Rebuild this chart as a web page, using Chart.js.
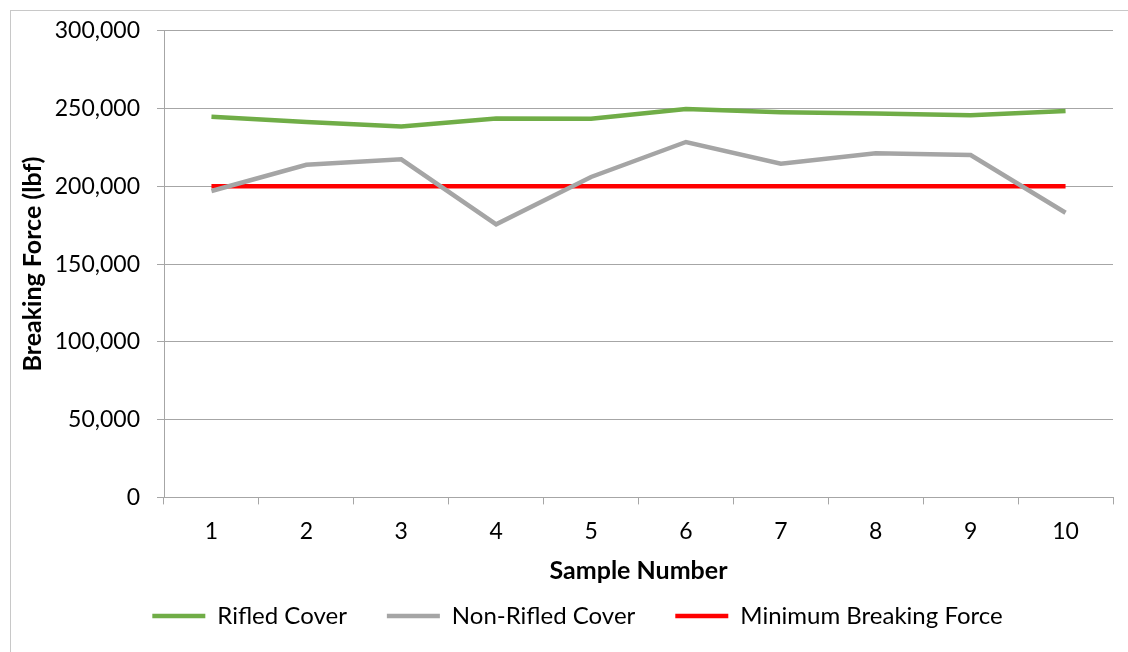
<!DOCTYPE html>
<html><head><meta charset="utf-8">
<script src="https://cdn.jsdelivr.net/npm/chart.js@4/dist/chart.umd.min.js"></script>
<style>
html,body{margin:0;padding:0;background:#fff;}
#wrap{position:relative;width:1128px;height:652px;overflow:hidden;}
#frame{position:absolute;left:10px;top:10px;width:1200px;height:700px;border:1px solid #c8c8c8;box-sizing:border-box;}
canvas{position:absolute;left:0;top:0;}
</style></head>
<body><div id="wrap"><div id="frame"></div><canvas id="c" width="1128" height="652"></canvas></div>
<script>
const categories = ['1','2','3','4','5','6','7','8','9','10'];
const rifledCover = [244700, 241400, 238400, 243600, 243400, 249700, 247700, 246800, 245700, 248500];
const nonRifledCover = [197000, 213900, 217400, 175600, 206000, 228500, 214600, 221200, 220100, 183000];
const minimumBreakingForce = [200000, 200000, 200000, 200000, 200000, 200000, 200000, 200000, 200000, 200000];
const yTicks = [0, 50000, 100000, 150000, 200000, 250000, 300000];

const FONT = 'Lato, "Liberation Sans", sans-serif';
const GRID = '#a6a6a6';
const LEGEND_GAP = 40;
const LEGEND_SHRINK = 28;
const LEGEND_SHIFT_X = 12;

const legendFix = {
  id: 'legendFix',
  beforeLayout(chart) {
    const lg = chart.legend;
    if (lg && !lg._patched) {
      const orig = lg.fit.bind(lg);
      lg.fit = function () { orig(); this.height -= LEGEND_SHRINK; };
      lg._patched = true;
    }
  },
  afterLayout(chart) {
    const lg = chart.legend;
    if (lg) { lg.top -= LEGEND_SHRINK; lg.left += LEGEND_SHIFT_X; lg.right += LEGEND_SHIFT_X; }
  }
};

new Chart(document.getElementById('c'), {
  type: 'line',
  data: {
    labels: categories,
    datasets: [
      {label: 'Rifled Cover', data: rifledCover, borderColor: '#70ad47', backgroundColor: '#70ad47', borderWidth: 4.5, pointRadius: 0, tension: 0},
      {label: 'Non-Rifled Cover', data: nonRifledCover, borderColor: '#a5a5a5', backgroundColor: '#a5a5a5', borderWidth: 4.5, pointRadius: 0, tension: 0},
      {label: 'Minimum Breaking Force', data: minimumBreakingForce, borderColor: '#ff0000', backgroundColor: '#ff0000', borderWidth: 4.5, pointRadius: 0, tension: 0}
    ]
  },
  plugins: [legendFix],
  options: {
    responsive: false,
    animation: false,
    devicePixelRatio: 1,
    layout: {padding: {left: 18, right: 15, top: 30, bottom: 14}},
    plugins: {
      legend: {
        position: 'bottom',
        labels: {
          usePointStyle: true, pointStyle: 'line', pointStyleWidth: 53, boxHeight: 4,
          font: {family: FONT, size: 24}, color: '#000', padding: LEGEND_GAP
        }
      },
      tooltip: {enabled: false}
    },
    scales: {
      x: {
        type: 'category', offset: true,
        grid: {display: true, drawOnChartArea: false, drawTicks: true, tickLength: 7, offset: true, color: GRID, lineWidth: 1},
        border: {display: true, color: GRID, width: 1},
        ticks: {font: {family: FONT, size: 23}, color: '#000', padding: 13, maxRotation: 0},
        title: {display: true, text: 'Sample Number', font: {family: FONT, size: 25, weight: 'bold'}, color: '#000', padding: {top: -2, bottom: 6}}
      },
      y: {
        min: 0, max: 300000,
        afterBuildTicks: (s) => { s.ticks = yTicks.map(v => ({value: v})); },
        afterFit: (s) => { s.width = 164 - 18; },
        grid: {color: GRID, lineWidth: 1, tickLength: 7, drawTicks: true},
        border: {display: true, color: GRID, width: 1},
        ticks: {font: {family: FONT, size: 23}, color: '#000', padding: 17,
          callback: (v) => Number(v).toLocaleString('en-US')},
        title: {display: true, text: 'Breaking Force (lbf)', font: {family: FONT, size: 25, weight: 'bold'}, color: '#000', padding: {top: 0, bottom: 0}}
      }
    }
  }
});
</script></body></html>
